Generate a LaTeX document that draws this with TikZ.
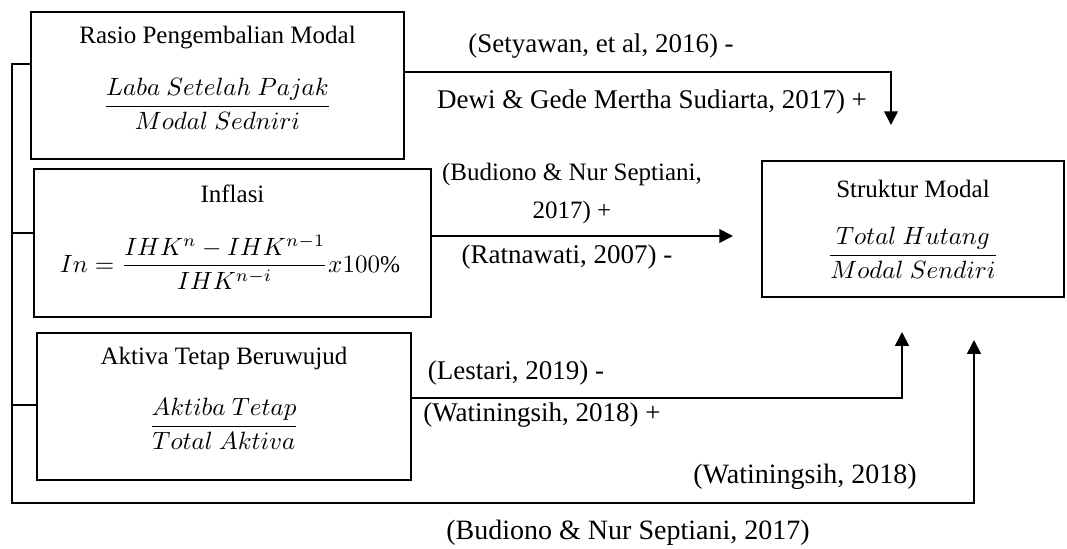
\documentclass[tikz,border=0pt]{standalone}
\usepackage{amsmath}
\usepackage{fontspec}
\setmainfont{Liberation Serif}
\usetikzlibrary{arrows.meta}

\begin{document}
\begin{tikzpicture}[x=0.4pt,y=-0.4pt,
  box/.style={draw,line width=0.7pt,inner sep=0pt},
  ttl/.style={font=\fontsize{10}{12}\selectfont},
  ref/.style={font=\fontsize{10.8}{15.2}\selectfont,align=center},
  lnk/.style={line width=0.7pt},
  arw/.style={line width=0.7pt,-{Triangle[width=5.5pt,length=5.5pt]}}]
\useasboundingbox (0,0) rectangle (1067,548);
% variabel bebas
\draw (217.5,85.5) node[box,minimum width=373*0.4pt,minimum height=147*0.4pt](roe) {};
\draw (217.5,38) node[ttl](roet) {Rasio Pengembalian Modal};
\draw (217.5,104) node[ttl](roef) {$\dfrac{Laba\ Setelah\ Pajak}{Modal\ Sedniri}$};
\draw (232.5,243) node[box,minimum width=397*0.4pt,minimum height=148*0.4pt](inf) {};
\draw (232.5,194) node[ttl](inft) {Inflasi};
\draw (230,262) node[font=\fontsize{9.6}{11}\selectfont](inff) {$In = \dfrac{IHK^n - IHK^{n-1}}{IHK^{n-i}}x100\%$};
\draw (224,406.5) node[box,minimum width=374*0.4pt,minimum height=147*0.4pt](atb) {};
\draw (224,358) node[ttl](atbt) {Aktiva Tetap Beruwujud};
\draw (224,424) node[ttl](atbf) {$\dfrac{Aktiba\ Tetap}{Total\ Aktiva}$};
% variabel terikat
\draw (913,229) node[box,minimum width=302*0.4pt,minimum height=136*0.4pt](sm) {};
\draw (913,189) node[ttl](smt) {Struktur Modal};
\draw (913,253) node[ttl](smf) {$\dfrac{Total\ Hutang}{Modal\ Sendiri}$};
% hubungan
\coordinate (c1) at (891,72);
\coordinate (p1) at (891,125);
\draw[arw] (roe.east |- c1) -- (c1) -- (p1);
\coordinate (p2) at (733,236);
\draw[arw] (inf.east |- p2) -- (p2);
\coordinate (c3) at (902,398);
\coordinate (p3) at (902,332);
\draw[arw] (atb.east |- c3) -- (c3) -- (p3);
\coordinate (c4) at (12,64);
\coordinate (c5) at (12,503);
\coordinate (p4) at (974,340);
\draw[arw] (roe.west |- c4) -- (c4) -- (c5) -| (p4);
\coordinate (c6) at (12,233);
\coordinate (c7) at (12,405);
\draw[lnk] (inf.west |- c6) -- (c6);
\draw[lnk] (atb.west |- c7) -- (c7);
% sumber
\draw (601,46) node[ref](r1) {(Setyawan, et al, 2016) -};
\draw (652,102) node[ref](r2) {Dewi \& Gede Mertha Sudiarta, 2017) +};
\draw (572,193) node[ref,font=\fontsize{10}{15.2}\selectfont](r3) {(Budiono \& Nur Septiani,\\2017) +};
\draw (567,257) node[ref](r4) {(Ratnawati, 2007) -};
\draw (516,373) node[ref](r5) {(Lestari, 2019) -};
\draw (542,415) node[ref](r6) {(Watiningsih, 2018) +};
\draw (805,477) node[ref,font=\fontsize{11.2}{14}\selectfont](r7) {(Watiningsih, 2018)};
\draw (628,533) node[ref,font=\fontsize{11.2}{14}\selectfont](r8) {(Budiono \& Nur Septiani, 2017)};
\end{tikzpicture}
\end{document}
